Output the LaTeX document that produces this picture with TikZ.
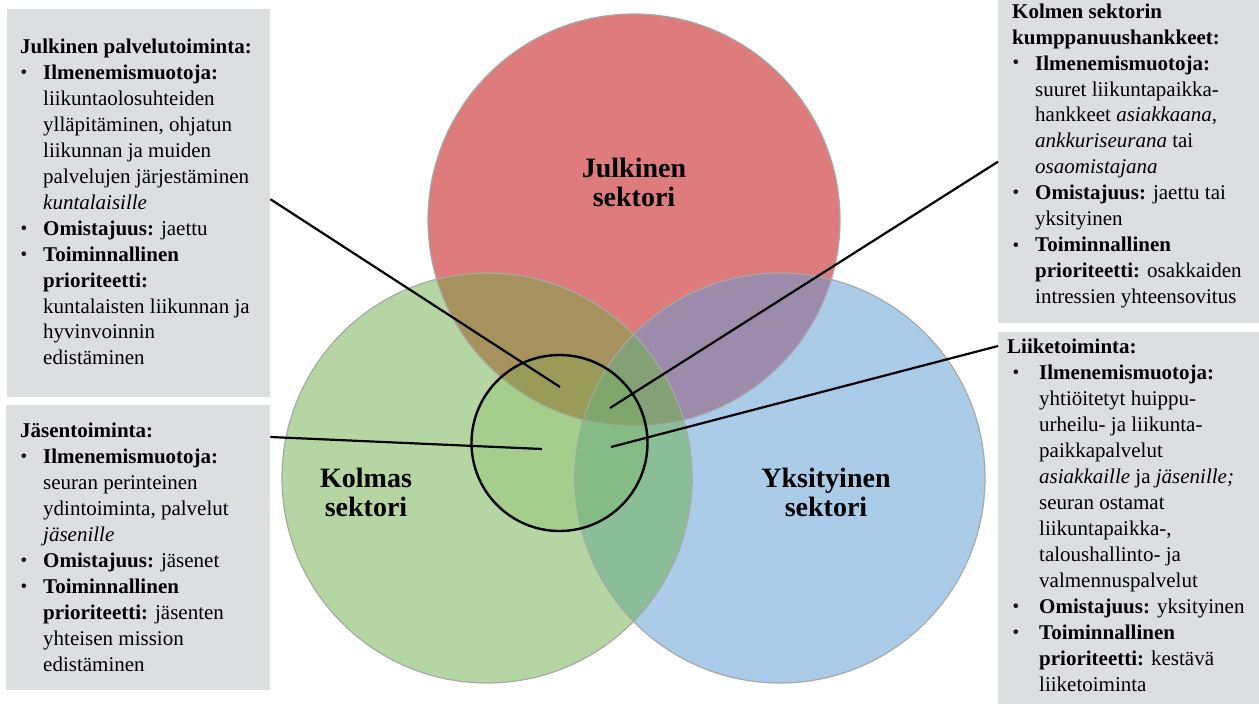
\documentclass[tikz,border=0pt]{standalone}
\usepackage{fontspec}
\setmainfont{Liberation Serif}[
  UprightFont={Liberation Serif},
  BoldFont={Liberation Serif Bold},
  ItalicFont={Liberation Serif Italic},
  BoldItalicFont={Liberation Serif Bold Italic}]
\usepackage{xcolor}
\usepackage{tikz}
\usetikzlibrary{positioning}

\definecolor{julkred}{HTML}{DD7B7D}
\definecolor{kolmgreen}{HTML}{B5D6A2}
\definecolor{yksblue}{HTML}{ABCCE9}
\definecolor{rgmix}{HTML}{A6925C}
\definecolor{rbmix}{HTML}{9C8BAA}
\definecolor{gbmix}{HTML}{8ABE98}
\definecolor{rgbmix}{HTML}{84A076}
\definecolor{boxgray}{HTML}{DDDEE0}
\definecolor{ringgray}{HTML}{A8A8A8}
\definecolor{coregreen}{HTML}{78B84E}

\newcommand{\pallo}{\hspace{0.5pt}\raisebox{1pt}{\fontsize{19}{19}\selectfont\textbullet}}

\begin{document}
\begin{tikzpicture}[x=1pt, y=-1pt]
            \tikzstyle{infobox} = [rectangle, fill=boxgray, inner sep=0pt, anchor=north west]
            \tikzstyle{boxtext} = [inner sep=0pt, anchor=base west, font=\fontsize{21}{26}\selectfont]
            \tikzstyle{sector} = [inner sep=0pt, anchor=south, align=center, font=\fontsize{28}{29}\selectfont\bfseries]
            \tikzstyle{ring} = [draw=ringgray, line width=1.2pt]
            \tikzstyle{core} = [draw=black, line width=2.4pt, fill=coregreen, fill opacity=0.25]
            \tikzstyle{pointer} = [draw=black, line width=2.2pt]

            \useasboundingbox (0,0) rectangle (1259,704);

            % sector circles
            \fill[julkred] (634,220) circle (206pt);
            \fill[kolmgreen] (487,478) circle (205pt);
            \fill[yksblue] (780,478) circle (205pt);
            \begin{scope}
                \clip (634,220) circle (206pt);
                \fill[rgmix] (487,478) circle (205pt);
                \fill[rbmix] (780,478) circle (205pt);
            \end{scope}
            \begin{scope}
                \clip (487,478) circle (205pt);
                \fill[gbmix] (780,478) circle (205pt);
            \end{scope}
            \begin{scope}
                \clip (634,220) circle (206pt);
                \clip (487,478) circle (205pt);
                \fill[rgbmix] (780,478) circle (205pt);
            \end{scope}
            \draw[ring] (634,220) circle (206pt);
            \draw[ring] (487,478) circle (205pt);
            \draw[ring] (780,478) circle (205pt);
            \draw[core] (559.5,443) circle (88pt);

            \node [sector] (julk) at (634,207) {Julkinen\\sektori};
            \node [sector] (kolm) at (366,517) {Kolmas\\sektori};
            \node [sector] (yksi) at (826,517) {Yksityinen\\sektori};

            % info boxes
            \node [infobox, minimum width=263pt, minimum height=388pt] (julpal) at (7,9) {};
            \node [infobox, minimum width=264pt, minimum height=285pt] (jasen) at (6,405) {};
            \node [infobox, minimum width=261pt, minimum height=323pt] (kumpp) at (998,0) {};
            \node [infobox, minimum width=261pt, minimum height=372pt] (liike) at (998,332) {};

            \node [boxtext] (julpal-t) at ([xshift=13pt, yshift=-44pt]julpal.north west) {%
                \begin{tabular}[t]{@{}p{23pt}@{}l@{}}
                    \multicolumn{2}{@{}l@{}}{\textbf{Julkinen palvelutoiminta:}}\\
                    \pallo & \textbf{Ilmenemismuotoja:}\\
                    & liikuntaolosuhteiden\\
                    & ylläpitäminen, ohjatun\\
                    & liikunnan ja muiden\\
                    & palvelujen järjestäminen\\
                    & \textit{kuntalaisille}\\
                    \pallo & \textbf{Omistajuus:} jaettu\\
                    \pallo & \textbf{Toiminnallinen}\\
                    & \textbf{prioriteetti:}\\
                    & kuntalaisten liikunnan ja\\
                    & hyvinvoinnin\\
                    & edistäminen
                \end{tabular}};

            \node [boxtext] (jasen-t) at ([xshift=14pt, yshift=-32pt]jasen.north west) {%
                \begin{tabular}[t]{@{}p{23pt}@{}l@{}}
                    \multicolumn{2}{@{}l@{}}{\textbf{Jäsentoiminta:}}\\
                    \pallo & \textbf{Ilmenemismuotoja:}\\
                    & seuran perinteinen\\
                    & ydintoiminta, palvelut\\
                    & \textit{jäsenille}\\
                    \pallo & \textbf{Omistajuus:} jäsenet\\
                    \pallo & \textbf{Toiminnallinen}\\
                    & \textbf{prioriteetti:} jäsenten\\
                    & yhteisen mission\\
                    & edistäminen
                \end{tabular}};

            \node [boxtext] (kumpp-t) at ([xshift=14pt, yshift=-18pt]kumpp.north west) {%
                \begin{tabular}[t]{@{}p{23pt}@{}l@{}}
                    \multicolumn{2}{@{}l@{}}{\textbf{Kolmen sektorin}}\\
                    \multicolumn{2}{@{}l@{}}{\textbf{kumppanuushankkeet:}}\\
                    \pallo & \textbf{Ilmenemismuotoja:}\\
                    & suuret liikuntapaikka-\\
                    & hankkeet \textit{asiakkaana},\\
                    & \textit{ankkuriseurana} tai\\
                    & \textit{osaomistajana}\\
                    \pallo & \textbf{Omistajuus:} jaettu tai\\
                    & yksityinen\\
                    \pallo & \textbf{Toiminnallinen}\\
                    & \textbf{prioriteetti:} osakkaiden\\
                    & intressien yhteensovitus
                \end{tabular}};

            \node [boxtext] (liike-t) at ([xshift=9pt, yshift=-21pt]liike.north west) {%
                \begin{tabular}[t]{@{\hspace{5pt}}p{27pt}@{}l@{}}
                    \multicolumn{2}{@{}l@{}}{\textbf{Liiketoiminta:}}\\
                    \pallo & \textbf{Ilmenemismuotoja:}\\
                    & yhtiöitetyt huippu-\\
                    & urheilu- ja liikunta-\\
                    & paikkapalvelut\\
                    & \textit{asiakkaille} ja \textit{jäsenille;}\\
                    & seuran ostamat\\
                    & liikuntapaikka-,\\
                    & taloushallinto- ja\\
                    & valmennuspalvelut\\
                    \pallo & \textbf{Omistajuus:} yksityinen\\
                    \pallo & \textbf{Toiminnallinen}\\
                    & \textbf{prioriteetti:} kestävä\\
                    & liiketoiminta
                \end{tabular}};

            % pointers into the core
            \coordinate (julpal-end) at (560,387);
            \coordinate (jasen-end) at (542,449);
            \coordinate (kumpp-end) at (610,408);
            \coordinate (liike-end) at (611,447);

            \draw [pointer] ([yshift=4pt]julpal.east) -- (julpal-end);
            \draw [pointer] ([yshift=-32pt]jasen.north east) -- (jasen-end);
            \draw [pointer] (kumpp.west) -- (kumpp-end);
            \draw [pointer] ([yshift=-14pt]liike.north west) -- (liike-end);
\end{tikzpicture}
\end{document}
